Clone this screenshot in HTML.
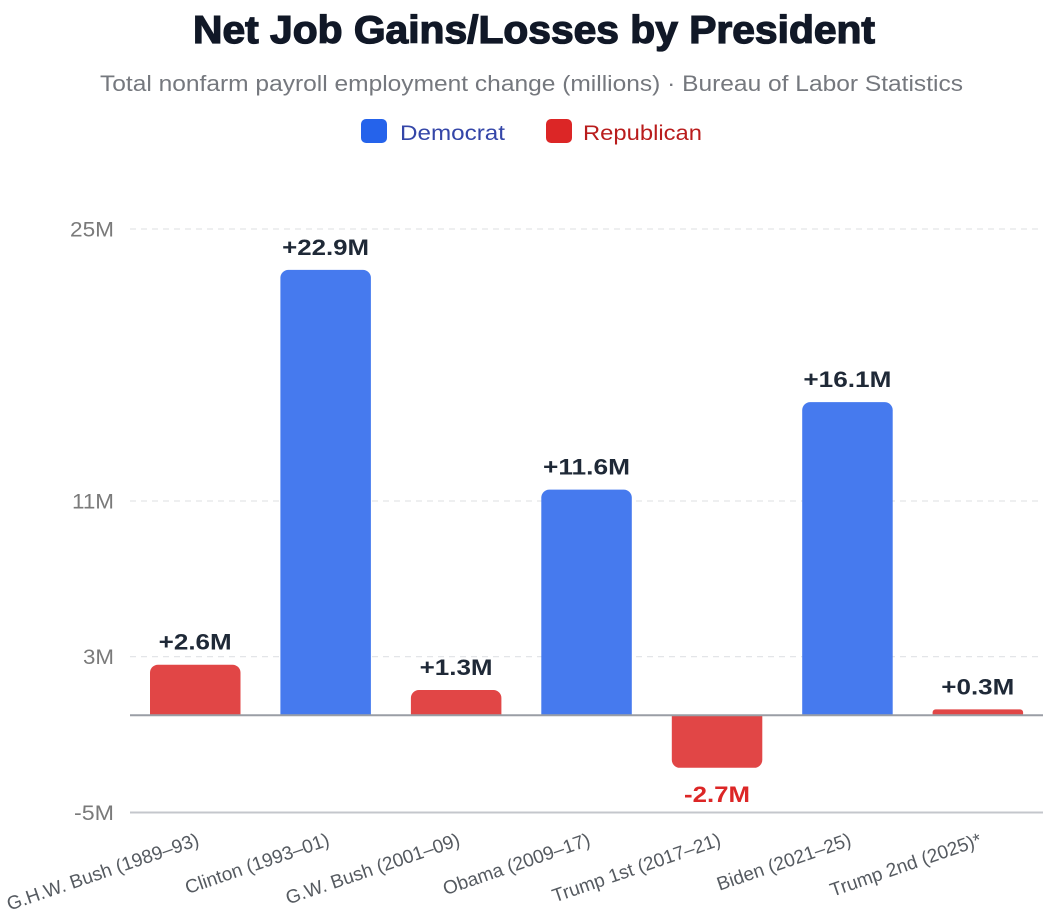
<!DOCTYPE html>
<html>
<head>
<meta charset="utf-8">
<style>
  html, body { margin: 0; padding: 0; background: #ffffff; }
  svg { display: block; }
  text { font-family: "Liberation Sans", "DejaVu Sans", sans-serif; }
</style>
</head>
<body>
<svg width="1046" height="918" viewBox="0 0 1046 918" xmlns="http://www.w3.org/2000/svg">
  <rect x="0" y="0" width="1046" height="918" fill="#ffffff"/>

  <!-- Title -->
  <text x="193" y="43" font-size="39" font-weight="bold" fill="#111827" stroke="#111827" stroke-width="1.3" textLength="682" lengthAdjust="spacingAndGlyphs">Net Job Gains/Losses by President</text>
  <!-- Subtitle -->
  <text x="100" y="91" font-size="22" fill="#75787e" textLength="863" lengthAdjust="spacingAndGlyphs">Total nonfarm payroll employment change (millions) · Bureau of Labor Statistics</text>

  <!-- Legend -->
  <rect x="361" y="119" width="26" height="24" rx="5" fill="#2563eb"/>
  <text x="400" y="140" font-size="21" fill="#3446a8" textLength="105" lengthAdjust="spacingAndGlyphs">Democrat</text>
  <rect x="546" y="119" width="26" height="24" rx="5" fill="#dc2626"/>
  <text x="583" y="140" font-size="21" fill="#b91c1c" textLength="119" lengthAdjust="spacingAndGlyphs">Republican</text>

  <!-- Gridlines -->
  <g stroke="#e3e5e8" stroke-width="1.3" stroke-dasharray="6 5">
    <line x1="130" y1="229" x2="1043" y2="229"/>
    <line x1="130" y1="501" x2="1043" y2="501"/>
    <line x1="130" y1="656.6" x2="1043" y2="656.6"/>
  </g>
  <!-- bottom axis -->
  <line x1="130" y1="812.5" x2="1043" y2="812.5" stroke="#c4c7cc" stroke-width="2"/>

  <!-- Y tick labels -->
  <g font-size="21.5" fill="#7a7a7a" text-anchor="end">
    <text x="114" y="236.5" textLength="44" lengthAdjust="spacingAndGlyphs">25M</text>
    <text x="114" y="508.5" textLength="42" lengthAdjust="spacingAndGlyphs">11M</text>
    <text x="114" y="664" textLength="31" lengthAdjust="spacingAndGlyphs">3M</text>
    <text x="114" y="820" textLength="40" lengthAdjust="spacingAndGlyphs">-5M</text>
  </g>

  <!-- Bars -->
  <path d="M150,715.3 V672.7 A8,8 0 0 1 158,664.7 H232.5 A8,8 0 0 1 240.5,672.7 V715.3 Z" fill="#e14646"/>
  <path d="M280.4,715.3 V277.9 A8,8 0 0 1 288.4,269.9 H362.9 A8,8 0 0 1 370.9,277.9 V715.3 Z" fill="#467aee"/>
  <path d="M410.9,715.3 V698 A8,8 0 0 1 418.9,690 H493.4 A8,8 0 0 1 501.4,698 V715.3 Z" fill="#e14646"/>
  <path d="M541.3,715.3 V497.6 A8,8 0 0 1 549.3,489.6 H623.8 A8,8 0 0 1 631.8,497.6 V715.3 Z" fill="#467aee"/>
  <path d="M671.8,715.3 V759.8 A8,8 0 0 0 679.8,767.8 H754.3 A8,8 0 0 0 762.3,759.8 V715.3 Z" fill="#e14646"/>
  <path d="M802.2,715.3 V410.1 A8,8 0 0 1 810.2,402.1 H884.7 A8,8 0 0 1 892.7,410.1 V715.3 Z" fill="#467aee"/>
  <path d="M932.6,715.3 V712.4 A3,3 0 0 1 935.6,709.4 H1020.1 A3,3 0 0 1 1023.1,712.4 V715.3 Z" fill="#e14646"/>

  <!-- zero line -->
  <line x1="130" y1="715.3" x2="1043" y2="715.3" stroke="#9a9ea5" stroke-width="2"/>

  <!-- Value labels -->
  <g font-size="22" font-weight="bold" fill="#1f2937" text-anchor="middle">
    <text x="195.2" y="649.7" textLength="73" lengthAdjust="spacingAndGlyphs">+2.6M</text>
    <text x="325.6" y="254.9" textLength="87" lengthAdjust="spacingAndGlyphs">+22.9M</text>
    <text x="456.1" y="675" textLength="73" lengthAdjust="spacingAndGlyphs">+1.3M</text>
    <text x="586.5" y="474.6" textLength="87" lengthAdjust="spacingAndGlyphs">+11.6M</text>
    <text x="847.4" y="387.1" textLength="88" lengthAdjust="spacingAndGlyphs">+16.1M</text>
    <text x="977.8" y="694.4" textLength="73" lengthAdjust="spacingAndGlyphs">+0.3M</text>
  </g>
  <text x="717" y="802" font-size="22" font-weight="bold" fill="#dc2626" text-anchor="middle" textLength="66" lengthAdjust="spacingAndGlyphs">-2.7M</text>

  <!-- X labels -->
  <g font-size="19" fill="#555a60" text-anchor="end">
    <text transform="translate(200.2,845) rotate(-19)">G.H.W. Bush (1989–93)</text>
    <text transform="translate(330.6,845) rotate(-19)">Clinton (1993–01)</text>
    <text transform="translate(461.1,845) rotate(-19)">G.W. Bush (2001–09)</text>
    <text transform="translate(591.5,845) rotate(-19)">Obama (2009–17)</text>
    <text transform="translate(722,845) rotate(-19)">Trump 1st (2017–21)</text>
    <text transform="translate(852.4,845) rotate(-19)">Biden (2021–25)</text>
    <text transform="translate(982.8,845) rotate(-19)">Trump 2nd (2025)*</text>
  </g>
</svg>
</body>
</html>
